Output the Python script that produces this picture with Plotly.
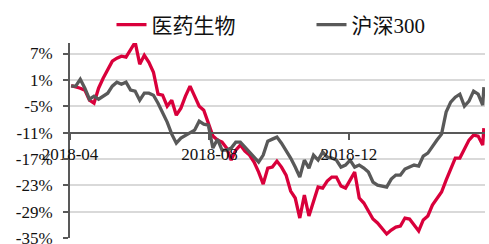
import plotly.graph_objects as go

dates = [
    "2018-04-02", "2018-04-06", "2018-04-10", "2018-04-14", "2018-04-18", "2018-04-22", "2018-04-26", "2018-04-30",
    "2018-05-04", "2018-05-08", "2018-05-12", "2018-05-16", "2018-05-20", "2018-05-24", "2018-05-28",
    "2018-06-01", "2018-06-05", "2018-06-09", "2018-06-13", "2018-06-17", "2018-06-21", "2018-06-25", "2018-06-29",
    "2018-07-03", "2018-07-07", "2018-07-11", "2018-07-15", "2018-07-19", "2018-07-23", "2018-07-27", "2018-07-31",
    "2018-08-04", "2018-08-08", "2018-08-12", "2018-08-16", "2018-08-20", "2018-08-24", "2018-08-28",
    "2018-09-01", "2018-09-05", "2018-09-09", "2018-09-13", "2018-09-17", "2018-09-21", "2018-09-25", "2018-09-29",
    "2018-10-03", "2018-10-07", "2018-10-11", "2018-10-15", "2018-10-19", "2018-10-23", "2018-10-27", "2018-10-31",
    "2018-11-04", "2018-11-08", "2018-11-12", "2018-11-16", "2018-11-20", "2018-11-24", "2018-11-28",
    "2018-12-02", "2018-12-06", "2018-12-10", "2018-12-14", "2018-12-18", "2018-12-22", "2018-12-26", "2018-12-30",
    "2019-01-03", "2019-01-07", "2019-01-11", "2019-01-15", "2019-01-19", "2019-01-23", "2019-01-27", "2019-01-31",
    "2019-02-04", "2019-02-08", "2019-02-12", "2019-02-16", "2019-02-20", "2019-02-24", "2019-02-28",
    "2019-03-04", "2019-03-08", "2019-03-12", "2019-03-16", "2019-03-20", "2019-03-24", "2019-03-28", "2019-03-29",
]

pharma = [
    -0.32, -0.55, -0.89, -1.34, -3.62, -4.30, -0.89, 1.38,
    3.20, 5.25, 5.93, 6.39, 6.16, 7.75, 9.57,
    4.57, 6.61, 5.02, 2.75, -2.25, -2.48, -4.98, -3.62,
    -7.03, -5.43, -2.71, -0.43, -2.71, -4.98, -5.89, -9.07,
    -11.80, -12.71, -13.17, -14.53, -17.26, -14.99, -13.85,
    -15.21, -16.12, -17.71, -19.99, -22.72, -19.08, -18.85, -17.49,
    -18.85, -20.67, -24.31, -25.90, -30.45, -25.22, -29.99, -26.81,
    -23.40, -23.63, -22.04, -21.12, -21.12, -23.17, -23.63,
    -21.81, -19.99, -25.90, -27.04, -28.86, -30.68, -31.59, -32.73,
    -34.09, -33.18, -32.50, -32.27, -30.45, -30.68, -32.04, -33.40,
    -30.90, -29.99, -27.49, -25.90, -24.54, -21.81, -19.53,
    -16.80, -16.80, -14.76, -12.71, -11.57, -11.80, -13.85, -9.98,
]

hs300 = [
    -0.43, -0.43, 1.16, -0.89, -3.39, -2.71, -3.39, -2.71,
    -2.03, -0.43, 0.48, 0.02, 0.48, -1.34, -1.57,
    -3.62, -2.03, -2.03, -2.48, -4.30, -6.57, -8.62, -11.35,
    -13.40, -12.26, -11.58, -11.12, -10.44, -8.39, -9.07, -9.30,
    -14.53, -12.49, -14.99, -14.99, -14.53, -13.17, -13.17,
    -14.31, -15.44, -16.81, -17.71, -16.12, -12.94, -12.49, -12.03,
    -13.40, -14.99, -16.81, -18.85, -21.12, -17.26, -19.08, -16.12,
    -17.26, -15.44, -16.58, -16.81, -17.26, -18.85, -18.40,
    -17.26, -18.85, -18.40, -19.08, -19.99, -22.26, -22.95, -23.17,
    -23.40, -21.58, -20.67, -20.67, -19.31, -18.85, -18.40, -18.62,
    -16.35, -15.67, -14.08, -12.71, -11.35, -6.34, -4.07,
    -2.94, -2.25, -4.98, -3.85, -1.57, -2.25, -4.75, -0.66,
]

series_names = ["医药生物", "沪深300"]
series_colors = ["#D9003B", "#595959"]

y_ticks = [-35, -29, -23, -17, -11, -5, 1, 7]
y_ticktext = [f"{v}%" for v in y_ticks]
x_ticks = ["2018-04-01", "2018-08-01", "2018-12-01"]
x_ticktext = ["2018-04", "2018-08", "2018-12"]

y_min, y_max = -35, 9.4
x_cross = -11

fig = go.Figure()
for k, (name, vals, col) in enumerate(zip(series_names, [pharma, hs300], series_colors)):
    fig.add_trace(go.Scatter(x=dates, y=vals, mode="lines", name=name,
                             line=dict(color=col, width=3.3),
                             legendwidth=155 if k == 0 else None))

serif = "Liberation Serif, Times New Roman, Noto Sans CJK SC, serif"

fig.update_layout(
    width=489, height=244,
    margin=dict(l=70, r=4, t=43, b=6, autoexpand=False),
    paper_bgcolor="white", plot_bgcolor="white",
    font=dict(family=serif, color="#111111", size=17),
    showlegend=True,
    hovermode=False,
    legend=dict(orientation="h", x=0.1, xanchor="left", y=1.092, yanchor="middle",
                font=dict(family="Liberation Serif, Noto Sans CJK SC, serif", size=21, color="#111111"),
                bgcolor="rgba(0,0,0,0)", borderwidth=0),
    xaxis=dict(type="date", range=["2018-04-01", "2019-03-30"],
               tickvals=x_ticks, ticktext=x_ticktext,
               anchor="free", position=(x_cross - y_min) / (y_max - y_min),
               showline=True, linecolor="#595959", linewidth=2,
               ticks="outside", ticklen=6, tickcolor="#595959", tickwidth=2,
               showgrid=False, zeroline=False,
               tickfont=dict(family=serif, size=17, color="#111111")),
    yaxis=dict(range=[y_min, y_max], tickvals=y_ticks, ticktext=y_ticktext,
               showline=True, linecolor="#595959", linewidth=2,
               ticks="outside", ticklen=5, tickcolor="#595959", tickwidth=2,
               showgrid=True, gridcolor="#D9D9D9", gridwidth=1.5,
               zeroline=False, ticklabeloverflow="allow", ticklabelstandoff=7,
               tickfont=dict(family=serif, size=17, color="#111111")),
)

fig.write_html("out.html", config={"displayModeBar": False},
               post_script="document.body.style.margin='0';")
